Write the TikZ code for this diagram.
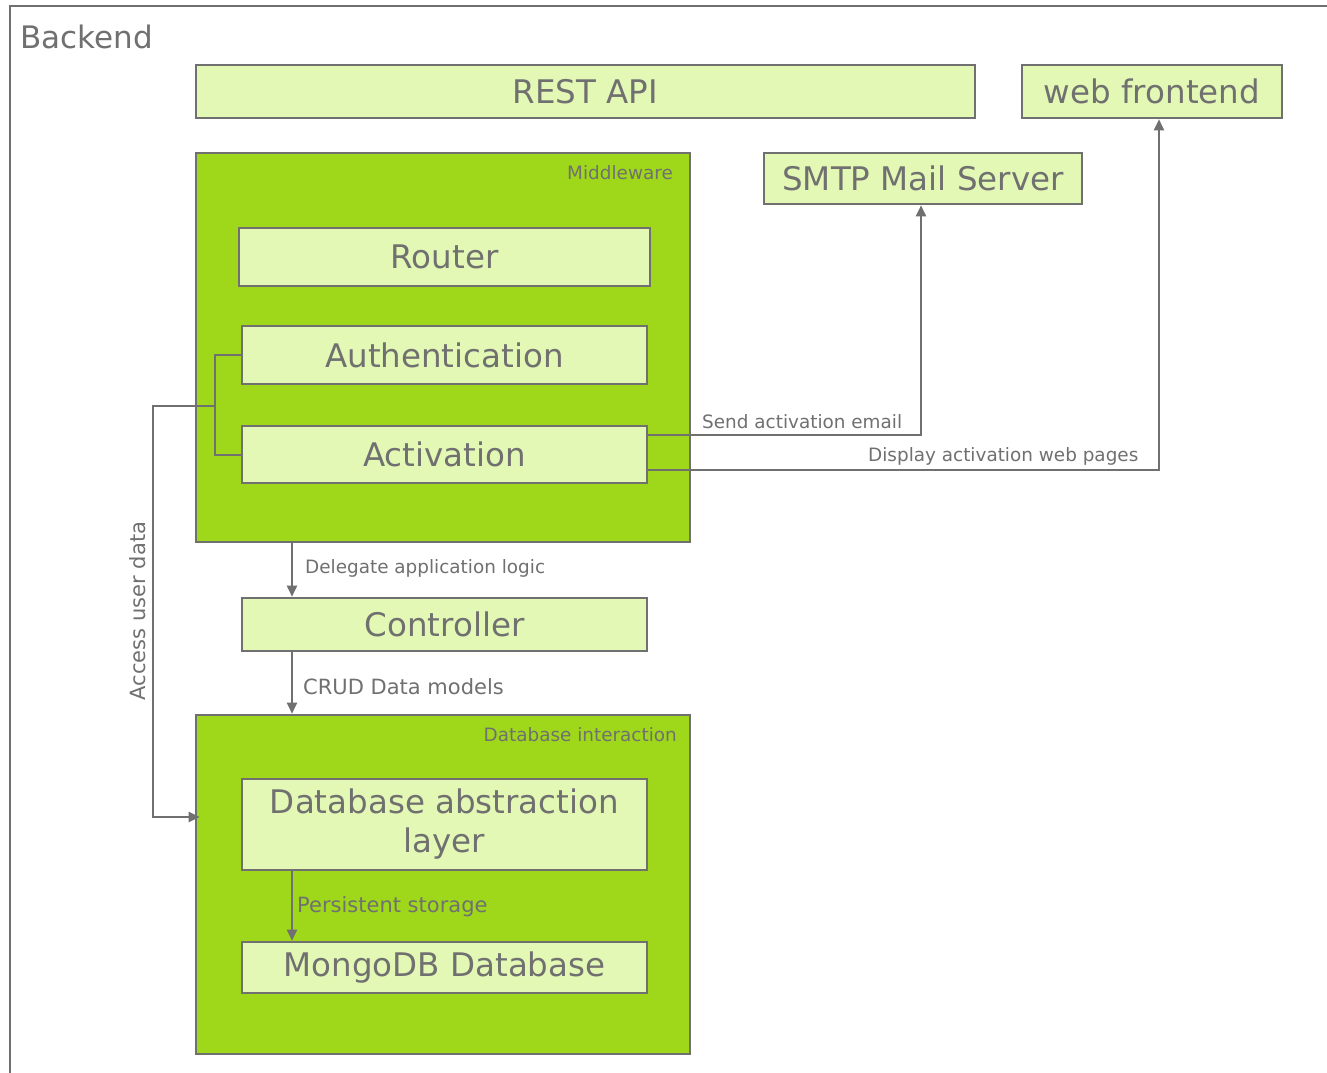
\documentclass[tikz,border=0pt]{standalone}
\usepackage{fontspec}
\setmainfont{DejaVu Sans}
\usetikzlibrary{arrows.meta,calc}
\definecolor{lg}{HTML}{707070}
\definecolor{pale}{HTML}{E3F8B4}
\definecolor{bright}{HTML}{9FD81B}
\begin{document}
\begin{tikzpicture}[x=1pt,y=-1pt,
  frame/.style={draw=lg,line width=2.2pt},
  box/.style={draw=lg,line width=2.6pt,fill=pale,text=lg,inner sep=0pt,font=\fontsize{32.5}{39}\selectfont,align=center},
  group/.style={draw=lg,line width=2.6pt,fill=bright,inner sep=0pt},
  conn/.style={draw=lg,line width=2pt},
  arr/.style={conn,-{Triangle[length=11pt,width=10pt]}},
  lbl/.style={text=lg,inner sep=0pt,font=\fontsize{18.4}{22}\selectfont},
  mlbl/.style={text=lg,inner sep=0pt,font=\fontsize{21}{25}\selectfont},
]
\useasboundingbox (0,0) rectangle (1327,1072);
\fill[white] (0,0) rectangle (1327,1072);
\draw[frame] (10,1073) -- (10,6) -- (1328,6);
\node[text=lg,inner sep=0pt,anchor=base west,font=\fontsize{31}{38}\selectfont] (backend) at (20,48) {Backend};

% top boxes
\node[box,minimum width=779pt,minimum height=53pt] (rest) at (585.5,91.5) {\raisebox{-1.5pt}{REST API}};
\node[box,minimum width=260pt,minimum height=53pt] (web) at (1152,91.5) {\raisebox{-1.5pt}{web frontend}};
\node[box,minimum width=318pt,minimum height=51pt] (smtp) at (923,178.5) {SMTP Mail Server};

% middleware group
\node[group,minimum width=494pt,minimum height=389pt] (mw) at (443,347.5) {};
\node[lbl,anchor=base east] (mwl) at (673,179) {Middleware};
\node[box,minimum width=411pt,minimum height=58pt] (router) at (444.5,257) {Router};
\node[box,minimum width=405pt,minimum height=58pt] (auth) at (444.5,355) {Authentication};
\node[box,minimum width=405pt,minimum height=57pt] (act) at (444.5,454.5) {Activation};

% controller
\node[box,minimum width=405pt,minimum height=53pt] (ctrl) at (444.5,624.5) {\raisebox{-1.5pt}{Controller}};

% database group
\node[group,minimum width=494pt,minimum height=339pt] (dbi) at (443,884.5) {};
\node[lbl,anchor=base east] (dbil) at (677,741) {Database interaction};
\node[box,minimum width=405pt,minimum height=91pt] (dal) at (444.5,824.5) {Database abstraction\\layer};
\node[box,minimum width=405pt,minimum height=51pt] (mongo) at (444.5,967.5) {\raisebox{-2pt}{MongoDB Database}};

% connectors
\coordinate (c1) at (292,0);
\draw[arr] (mw.south -| c1) -- (ctrl.north -| c1);
\node[lbl,anchor=base west] (l1) at (305,573) {Delegate application logic};
\draw[arr] (ctrl.south -| c1) -- (dbi.north -| c1);
\node[mlbl,anchor=base west] (l2) at (303,694) {CRUD Data models};
\draw[arr] (dal.south -| c1) -- (mongo.north -| c1);
\node[mlbl,anchor=base west] (l3) at (297,912) {Persistent storage};

\coordinate (e1) at (921,435);
\draw[arr] (act.east |- e1) -| (smtp.south -| e1);
\node[lbl,anchor=base west] (l4) at (702,428) {Send activation email};
\coordinate (e2) at (1159,470);
\draw[arr] (act.east |- e2) -| (web.south -| e2);
\node[lbl,anchor=base west] (l5) at (868,461) {Display activation web pages};

% bracket & access user data
\coordinate (bx) at (215,0);
\draw[conn] (auth.west) -- (auth.west -| bx) -- (act.west -| bx) -- (act.west);
\coordinate (j) at (215,406);
\coordinate (k) at (153,817);
\draw[arr] (j) -- (j -| k) -- (k) -- ($(dbi.west |- k)+(5,0)$);
\node[mlbl,rotate=90] (l6) at (138,611) {Access user data};
\end{tikzpicture}
\end{document}
